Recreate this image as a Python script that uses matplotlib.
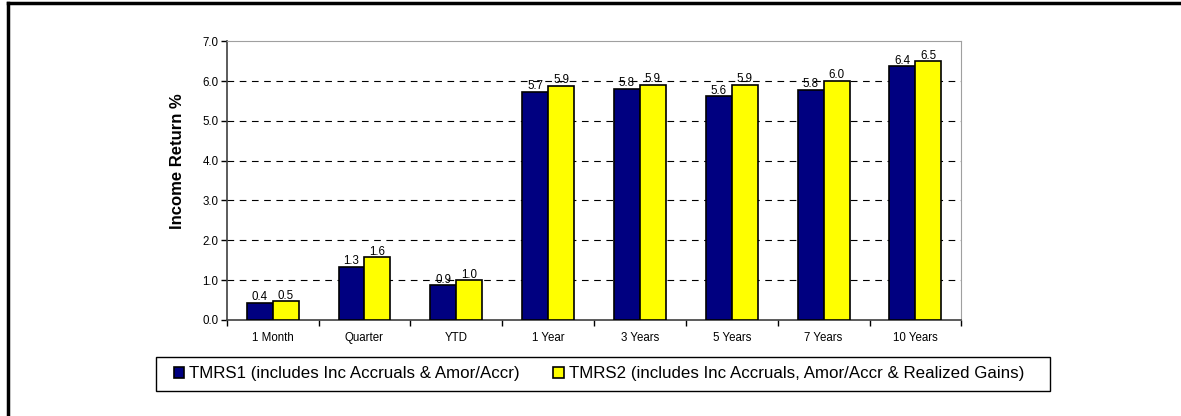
import matplotlib.pyplot as plt
import numpy as np
from matplotlib.lines import Line2D
from matplotlib.patches import Rectangle

plt.rcParams['font.family'] = ['Liberation Sans', 'DejaVu Sans']

categories = ['1 Month', 'Quarter', 'YTD', '1 Year', '3 Years', '5 Years', '7 Years', '10 Years']
tmrs1 = [0.43, 1.33, 0.87, 5.73, 5.80, 5.62, 5.78, 6.37]
tmrs2 = [0.47, 1.57, 1.00, 5.88, 5.90, 5.90, 6.00, 6.50]
label1 = 'TMRS1 (includes Inc Accruals & Amor/Accr)'
label2 = 'TMRS2 (includes Inc Accruals, Amor/Accr & Realized Gains)'

W, H = 1181, 416
fig = plt.figure(figsize=(W / 100, H / 100), dpi=100)
ax = fig.add_axes([0.192, 0.231, 0.622, 0.670])

x = np.arange(len(categories))
w = 0.283
b1 = ax.bar(x - w / 2, tmrs1, w, color='#000080', edgecolor='black', linewidth=1.2, zorder=3, label=label1)
b2 = ax.bar(x + w / 2, tmrs2, w, color='#ffff00', edgecolor='black', linewidth=1.2, zorder=3, label=label2)

for bars, vals in ((b1, tmrs1), (b2, tmrs2)):
    for rect, v in zip(bars, vals):
        ax.annotate(f'{v:.1f}', (rect.get_x() + rect.get_width() / 2, v),
                    xytext=(0, 4), textcoords='offset points',
                    ha='center', va='center', fontsize=8.3, zorder=4)

ax.set_xlim(-0.5, len(categories) - 0.5)
ax.set_ylim(0, 7)
ax.set_yticks(np.arange(0, 7.5, 1.0))
ax.set_yticklabels([f'{v:.1f}' for v in np.arange(0, 7.5, 1.0)], fontsize=8.3)
ax.set_xticks(x)
ax.set_xticklabels(categories, fontsize=8.3)
ax.set_xticks(np.arange(-0.5, len(categories)), minor=True)
ax.tick_params(axis='x', which='major', length=0, pad=9)
ax.tick_params(axis='x', which='minor', length=4, direction='out', width=1)
ax.tick_params(axis='y', length=4, width=1, pad=2)
ax.set_ylabel('Income Return %', fontsize=12, fontweight='bold')
ax.yaxis.set_label_coords(-0.057, 0.57)

for y in range(1, 7):
    ax.axhline(y, color='black', linestyle=(0, (6, 5)), linewidth=0.8, zorder=1)

ax.spines['left'].set_color('#404040')
ax.spines['bottom'].set_color('#404040')
ax.spines['left'].set_linewidth(1.2)
ax.spines['bottom'].set_linewidth(1.2)
ax.spines['top'].set_color('#a0a0a0')
ax.spines['right'].set_color('#a0a0a0')

# legend content without frame, frame drawn separately to match the wide box
fig.legend(handles=[b1, b2], loc='center', bbox_to_anchor=(0.507, 0.101), ncol=2,
           fontsize=12.2, frameon=False, handlelength=0.6, handleheight=0.6,
           handletextpad=0.3, columnspacing=2.0, borderpad=0.5, borderaxespad=0)
fig.add_artist(Rectangle((156 / W, 1 - 391 / H), (1050 - 156) / W, 34 / H,
                         transform=fig.transFigure, fill=False, edgecolor='black', linewidth=1.0))

# outer frame (top and left only visible)
fig.add_artist(Line2D([8 / W, 8 / W], [0, 1 - 3 / H], color='black', linewidth=2.5, transform=fig.transFigure))
fig.add_artist(Line2D([8 / W, 1], [1 - 3 / H, 1 - 3 / H], color='black', linewidth=2.5, transform=fig.transFigure))

fig.savefig('out.png', dpi=100)
